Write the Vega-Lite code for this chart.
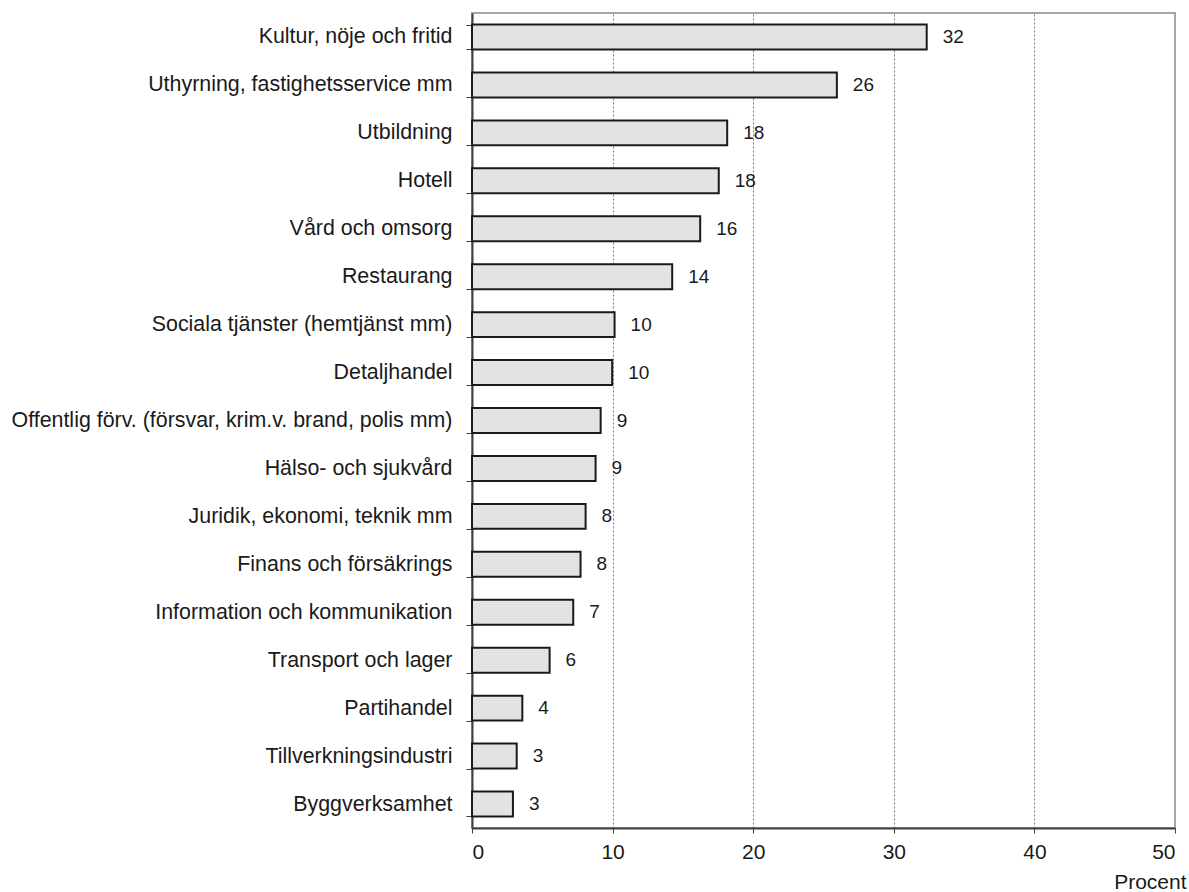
{
  "$schema": "https://vega.github.io/schema/vega-lite/v6.json",
  "width": 703,
  "height": 815,
  "autosize": "none",
  "padding": {"left": 472, "top": 13, "right": 14, "bottom": 64},
  "background": "white",
  "config": {
    "view": {"stroke": "#a6a6a6", "strokeWidth": 2},
    "font": "Liberation Sans"
  },
  "data": {
    "values": [
      {"category": "Kultur, nöje och fritid", "value": 32.34},
      {"category": "Uthyrning, fastighetsservice mm", "value": 25.95},
      {"category": "Utbildning", "value": 18.15},
      {"category": "Hotell", "value": 17.55},
      {"category": "Vård och omsorg", "value": 16.23},
      {"category": "Restaurang", "value": 14.24},
      {"category": "Sociala tjänster (hemtjänst mm)", "value": 10.14},
      {"category": "Detaljhandel", "value": 9.97},
      {"category": "Offentlig förv. (försvar, krim.v. brand, polis mm)", "value": 9.15},
      {"category": "Hälso- och sjukvård", "value": 8.79},
      {"category": "Juridik, ekonomi, teknik mm", "value": 8.08},
      {"category": "Finans och försäkrings", "value": 7.72},
      {"category": "Information och kommunikation", "value": 7.2},
      {"category": "Transport och lager", "value": 5.52},
      {"category": "Partihandel", "value": 3.58},
      {"category": "Tillverkningsindustri", "value": 3.18},
      {"category": "Byggverksamhet", "value": 2.91}
    ]
  },
  "encoding": {
    "y": {
      "field": "category",
      "type": "nominal",
      "sort": null,
      "scale": {"paddingInner": 0.48, "paddingOuter": 0.24},
      "axis": {
        "title": null,
        "domain": true,
        "domainColor": "#404040",
        "domainWidth": 2,
        "ticks": true,
        "tickBand": "extent",
        "tickSize": 6,
        "tickColor": "#404040",
        "tickWidth": 1,
        "labelFontSize": 21.4,
        "labelColor": "#1a1a1a",
        "labelPadding": 14,
        "labelLimit": 600,
        "grid": false
      }
    }
  },
  "layer": [
    {
      "mark": {"type": "bar", "fill": "#e3e3e3", "stroke": "#1a1a1a", "strokeWidth": 2},
      "encoding": {
        "x": {
          "field": "value",
          "type": "quantitative",
          "scale": {"domain": [0, 50], "nice": false},
          "axis": {
            "values": [0, 10, 20, 30, 40, 50],
            "grid": true,
            "gridDash": [2, 2],
            "gridColor": "#7a7a7a",
            "gridWidth": 1,
            "gridOpacity": {"condition": {"test": "datum.value === 0 || datum.value === 50", "value": 0}, "value": 1},
            "domainColor": "#404040",
            "domainWidth": 2,
            "tickSize": 5,
            "tickColor": "#404040",
            "labelFontSize": 21,
            "labelColor": "#1a1a1a",
            "labelPadding": 8,
            "title": "Procent",
            "titleFontSize": 21,
            "titleFontWeight": "normal",
            "titleColor": "#1a1a1a",
            "titleAlign": "right",
            "titleAnchor": "end",
            "titleBaseline": "top",
            "titleX": 714,
            "titleY": 43
          }
        }
      }
    },
    {
      "mark": {"type": "text", "align": "left", "baseline": "middle", "dx": 16, "fontSize": 19, "color": "#1a1a1a"},
      "encoding": {
        "x": {"field": "value", "type": "quantitative"},
        "text": {"field": "value", "type": "quantitative", "format": ".0f"}
      }
    }
  ]
}
